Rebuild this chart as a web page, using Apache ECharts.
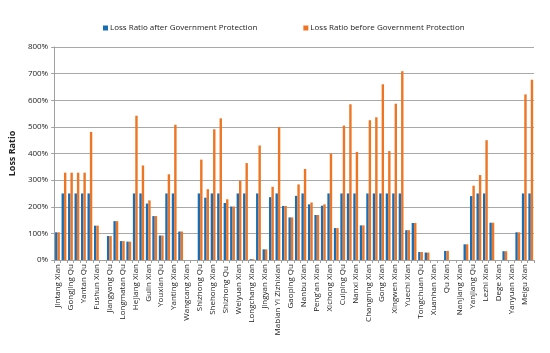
<!DOCTYPE html>
<html>
<head>
<meta charset="utf-8">
<script src="https://cdn.jsdelivr.net/npm/echarts@6/dist/echarts.min.js"></script>
<style>
  html, body { margin: 0; padding: 0; background: #fff; }
  #chart { width: 550px; height: 353px; }
</style>
</head>
<body>
<div id="chart"></div>
<script>
  // counties (every other label is shown on the axis)
  var counties = [
    'Jintang Xian', 'Pengzhou Shi', 'Gongjing Qu', "Da'an Qu", 'Yantan Qu', 'Rong Xian',
    'Fushun Xian', 'Naxi Qu', 'Jiangyang Qu', 'Lu Xian', 'Longmatan Qu', 'Xuyong Xian',
    'Hejiang Xian', 'Jiangyou Shi', 'Gulin Xian', 'Fucheng Qu', 'Youxian Qu', 'Santai Xian',
    'Yanting Xian', 'Zitong Xian', 'Wangcang Xian', 'Cangxi Xian', 'Shizhong Qu', 'Pengxi Xian',
    'Shehong Xian', 'Daying Xian', 'Shizhong Qu ', 'Dongxing Qu', 'Weiyuan Xian', 'Zizhong Xian',
    'Longchang Xian', 'Wutongqiao Qu', 'Jingyan Xian', 'Jiajiang Xian', 'Mabian Yi Zizhixian', 'Shunqing Qu',
    'Gaoping Qu', 'Jialing Qu', 'Nanbu Xian', 'Yingshan Xian', "Peng'an Xian", 'Yilong Xian',
    'Xichong Xian', 'Langzhong Shi', 'Cuiping Qu', 'Yibin Xian', 'Nanxi Xian', "Jiang'an Xian",
    'Changning Xian', 'Gao Xian', 'Gong Xian', 'Junlian Xian', 'Xingwen Xian', 'Pingshan Xian',
    'Yuechi Xian', 'Wusheng Xian', 'Tongchuan Qu', 'Dachuan Qu', 'Xuanhan Xian', 'Kaijiang Xian',
    'Qu Xian', 'Bazhou Qu', 'Nanjiang Xian', 'Yucheng Qu', 'Yanjiang Qu', 'Jianyang Shi',
    'Lezhi Xian', 'Anyue Xian', 'Dege Xian', 'Ganzi Xian', 'Yanyuan Xian', 'Huili Xian',
    'Meigu Xian', 'Leibo Xian'
  ];

  // loss ratio, percent
  var afterProtection = [
    104, 250, 250, 250, 250, 250, 129, null, 90, 146, 71, 69,
    250, 250, 212, 165, 92, 250, 250, 107, null, null, 250, 234,
    250, 250, 214, 201, 250, 250, 3, 250, 40, 236, 250, 203,
    160, 241, 250, 209, 169, 204, 250, 120, 250, 250, 250, 130,
    250, 250, 250, 250, 250, 250, 112, 139, 30, 28, null, null,
    34, null, null, 59, 240, 250, 250, 140, null, 33, null, 104,
    250, 250
  ];
  var beforeProtection = [
    104, 328, 328, 328, 328, 481, 129, null, 90, 146, 71, 69,
    542, 355, 224, 165, 92, 322, 508, 107, null, null, 377, 266,
    491, 532, 228, 201, 298, 364, 3, 430, 40, 275, 499, 203,
    160, 284, 342, 216, 169, 209, 400, 120, 505, 585, 406, 130,
    525, 536, 660, 409, 587, 709, 112, 139, 30, 28, null, null,
    34, null, null, 59, 279, 319, 450, 140, null, 33, null, 104,
    622, 677
  ];

  var seriesNames = ['Loss Ratio after Government Protection', 'Loss Ratio before Government Protection'];
  var colors = ['#1a6cb3', '#ee7524'];

  var chart = echarts.init(document.getElementById('chart'), null, { renderer: 'canvas' });

  chart.setOption({
    animation: false,
    color: colors,
    textStyle: { fontFamily: 'Open Sans' },
    legend: {
      top: 19,
      left: 98,
      itemWidth: 5,
      itemHeight: 5,
      itemGap: 46,
      icon: 'rect',
      textStyle: { fontSize: 8, color: '#222', padding: [0, 0, 0, -3] },
      data: seriesNames
    },
    grid: { left: 52, right: 16, top: 47, bottom: 93 },
    xAxis: {
      type: 'category',
      data: counties,
      axisLine: { lineStyle: { color: '#a0a0a0' } },
      axisTick: { show: true, interval: 0, length: 3, lineStyle: { color: '#a0a0a0' } },
      axisLabel: { interval: 1, rotate: 90, fontSize: 8, color: '#222', margin: 4 }
    },
    yAxis: {
      type: 'value',
      min: 0,
      max: 800,
      interval: 100,
      name: 'Loss Ratio',
      nameLocation: 'middle',
      nameGap: 35,
      nameTextStyle: { fontSize: 9, fontWeight: 'bold', color: '#222' },
      axisLine: { show: true, lineStyle: { color: '#a0a0a0' } },
      axisTick: { show: true, length: 3, lineStyle: { color: '#a0a0a0' } },
      axisLabel: { formatter: '{value}%', fontSize: 8, color: '#222', margin: 6 },
      splitLine: { lineStyle: { color: '#a8a8a8' } }
    },
    series: [
      {
        name: seriesNames[0],
        type: 'bar',
        data: afterProtection,
        barWidth: 2.4,
        barGap: '0%'
      },
      {
        name: seriesNames[1],
        type: 'bar',
        data: beforeProtection,
        barWidth: 2.4,
        barGap: '0%'
      }
    ]
  });
</script>
</body>
</html>
